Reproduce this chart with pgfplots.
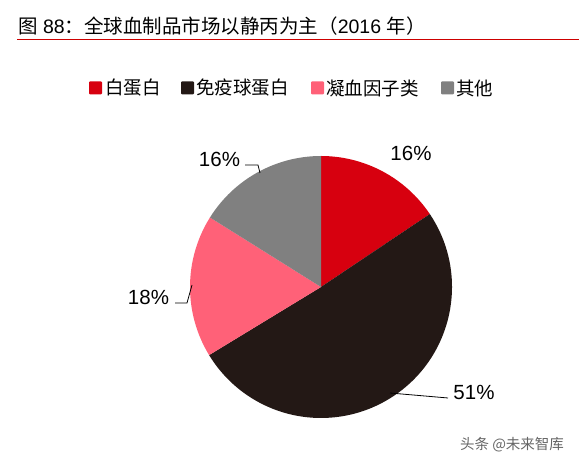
\documentclass[border=0pt]{standalone}
\usepackage{pgfplots}
\pgfplotsset{compat=1.18}
\usepackage{pgfplotstable}
\usepackage{fontspec}
\setmainfont{Liberation Sans}
\newfontfamily\cjk{Noto Sans CJK SC}
\definecolor{cred}{RGB}{215,0,15}
\definecolor{cdark}{RGB}{35,24,21}
\definecolor{cpink}{RGB}{255,97,120}
\definecolor{cgray}{RGB}{128,128,128}
\definecolor{cline}{RGB}{205,0,0}
\pgfplotstableread{
label value
A 15.6
B 50.7
C 17.6
D 16.1
}\piedata
\begin{document}
\begin{tikzpicture}
\pgfplotstablegetelem{0}{value}\of\piedata \let\va\pgfplotsretval
\pgfplotstablegetelem{1}{value}\of\piedata \let\vb\pgfplotsretval
\pgfplotstablegetelem{2}{value}\of\piedata \let\vc\pgfplotsretval
\pgfplotstablegetelem{3}{value}\of\piedata \let\vd\pgfplotsretval
\pgfmathsetmacro\aA{90}
\pgfmathsetmacro\aB{\aA-\va*3.6}
\pgfmathsetmacro\aC{\aB-\vb*3.6}
\pgfmathsetmacro\aD{\aC-\vc*3.6}
\pgfmathsetmacro\aE{\aD-\vd*3.6}
\begin{axis}[scale only axis, width=579pt, height=465pt,
  xmin=0, xmax=579, ymin=0, ymax=465, hide axis, clip=false]
% pie slices
\fill[cred]  (axis cs:321,178) -- ++(\aA:131pt) arc[start angle=\aA, end angle=\aB, radius=131pt] -- cycle;
\fill[cdark] (axis cs:321,178) -- ++(\aB:131pt) arc[start angle=\aB, end angle=\aC, radius=131pt] -- cycle;
\fill[cpink] (axis cs:321,178) -- ++(\aC:131pt) arc[start angle=\aC, end angle=\aD, radius=131pt] -- cycle;
\fill[cgray] (axis cs:321,178) -- ++(\aD:131pt) arc[start angle=\aD, end angle=\aE, radius=131pt] -- cycle;
% title
\node[anchor=base west, inner sep=0, font=\fontsize{19.5}{22}\selectfont] at (axis cs:18,431)
  {{\cjk 图} 88{\cjk ：全球血制品市场以静丙为主（}2016 {\cjk 年）}};
\draw[cline, line width=1.4pt] (axis cs:17,425.5) -- (axis cs:579,425.5);
% legend
\fill[cred, rounded corners=1pt]  (axis cs:89,370.5) rectangle (axis cs:102,383.5);
\fill[cdark, rounded corners=1pt] (axis cs:181,370.5) rectangle (axis cs:194,383.5);
\fill[cpink, rounded corners=1pt] (axis cs:311,370.5) rectangle (axis cs:324,383.5);
\fill[cgray, rounded corners=1pt] (axis cs:441,370.5) rectangle (axis cs:454,383.5);
\begin{scope}[every node/.style={anchor=west, inner sep=0, font=\cjk\fontsize{18.5}{20}\selectfont}]
\node at (axis cs:105,377) {白蛋白};
\node at (axis cs:196,377) {免疫球蛋白};
\node at (axis cs:326,377) {凝血因子类};
\node at (axis cs:456,377) {其他};
\end{scope}
% labels
\begin{scope}[every node/.style={inner sep=0, font=\fontsize{20.5}{24}\selectfont}]
\node at (axis cs:411,312) {16\%};
\node at (axis cs:219.5,306) {16\%};
\node at (axis cs:148.5,168) {18\%};
\node at (axis cs:474,73) {51\%};
\end{scope}
\draw[black, line width=0.8pt] (axis cs:245,300) -- (axis cs:258,300) -- (axis cs:260,292);
\draw[black, line width=0.8pt] (axis cs:175,162) -- (axis cs:187,162) -- (axis cs:192,180);
\draw[black, line width=0.8pt] (axis cs:390,72) -- (axis cs:448,67);
% watermark
\node[inner sep=0, text=black!60, font=\cjk\fontsize{14.5}{16}\selectfont] at (axis cs:512,20) {头条 @未来智库};
\end{axis}
\pgfresetboundingbox
\path[use as bounding box] (0,0) rectangle (579pt,465pt);
\end{tikzpicture}
\end{document}
